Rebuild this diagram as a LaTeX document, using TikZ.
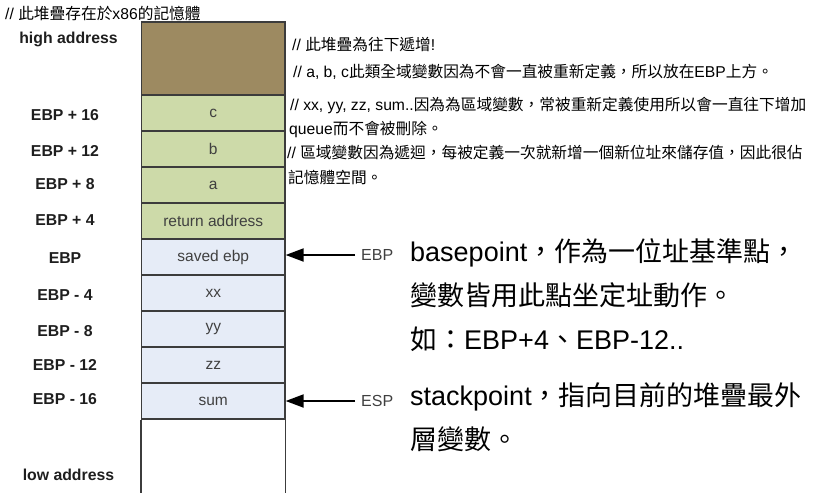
\documentclass[tikz,border=0pt]{standalone}
\usepackage{fontspec}
\setmainfont{Liberation Sans}
\newfontfamily\cjk{Noto Sans CJK TC}
\usetikzlibrary{arrows.meta}
\definecolor{brownc}{RGB}{157,138,97}
\definecolor{greenc}{RGB}{205,218,169}
\definecolor{bluec}{RGB}{230,236,247}
\definecolor{edgec}{RGB}{60,60,60}
\definecolor{celltxt}{RGB}{64,64,64}
\definecolor{lbltxt}{RGB}{30,30,30}
\begin{document}
\begin{tikzpicture}[x=1pt,y=-1pt,
 cell/.style={draw=edgec, line width=1.3pt, minimum width=143.5pt, minimum height=36pt, inner sep=0pt, text=celltxt, font=\fontsize{15.5}{18}\selectfont},
 addr/.style={anchor=base, inner sep=0pt, text=lbltxt, font=\fontsize{15.8}{18}\selectfont\bfseries},
 note/.style={anchor=base west, inner sep=0pt, font=\fontsize{15.7}{19}\selectfont},
 big/.style={anchor=base west, inner sep=0pt, font=\fontsize{27}{32}\selectfont},
 reg/.style={inner xsep=6pt, inner ysep=0pt, anchor=west, text=celltxt, font=\fontsize{16}{18}\selectfont},
 ptr/.style={line width=2pt, -{Triangle[length=18pt,width=13pt]}}]
\useasboundingbox (0,0) rectangle (834,503);
% stack column
\node[cell, fill=brownc, minimum height=73pt] (top) at (213.25,58.5) {};
\node[cell, fill=greenc] (c) at (213.25,113) {c};
\node[cell, fill=greenc] (b) at (213.25,149) {b};
\node[cell, fill=greenc] (a) at (213.25,185) {a};
\node[cell, fill=greenc] (ret) at (213.25,221) {return address};
\node[cell, fill=bluec] (sav) at (213.25,257) {saved ebp};
\node[cell, fill=bluec] (xx) at (213.25,293) {xx};
\node[cell, fill=bluec] (yy) at (213.25,329) {yy};
\node[cell, fill=bluec] (zz) at (213.25,365) {zz};
\node[cell, fill=bluec] (sum) at (213.25,401) {sum};
\draw[edgec, line width=1.6pt] (sum.south west) -- ++(0,73);
\draw[edgec, line width=1.6pt] (sum.south east) -- ++(0,73);
% address labels
\node[addr] (lhigh) at (68.5,44) {high address};
\node[addr] (l16) at (65,120) {EBP + 16};
\node[addr] (l12) at (65,156) {EBP + 12};
\node[addr] (l8) at (65,189) {EBP + 8};
\node[addr] (l4) at (65,225) {EBP + 4};
\node[addr] (l0) at (65,263) {EBP};
\node[addr] (lm4) at (65,300.5) {EBP - 4};
\node[addr] (lm8) at (65,336.5) {EBP - 8};
\node[addr] (lm12) at (65,370) {EBP - 12};
\node[addr] (lm16) at (65,404) {EBP - 16};
\node[addr] (llow) at (68.5,480) {low address};
% title and comments
\node[note] (title) at (5,20) {// {\cjk 此堆疊存在於}x86{\cjk 的記憶體}};
\node[note] (n1) at (292,51) {// {\cjk 此堆疊為往下遞增}!};
\node[note] (n2) at (293,77) {// a, b, c{\cjk 此類全域變數因為不會一直被重新定義，所以放在}EBP{\cjk 上方。}};
\node[note] (n3) at (290,110) {// xx, yy, zz, sum..{\cjk 因為為區域變數，常被重新定義使用所以會一直往下增加}};
\node[note] (n4) at (289,134.5) {queue{\cjk 而不會被刪除。}};
\node[note] (n5) at (287,158) {// {\cjk 區域變數因為遞迴，每被定義一次就新增一個新位址來儲存值，因此很佔}};
\node[note] (n6) at (288,183) {{\cjk 記憶體空間。}};
% pointers
\node[reg] (ebp) at (355,255) {EBP};
\node[reg] (esp) at (355,401) {ESP};
\draw[ptr] (ebp.west) -- (ebp.west -| sav.east);
\draw[ptr] (esp.west) -- (esp.west -| sum.east);
% big explanations
\node[big] (t1) at (410,261) {basepoint{\cjk ，作為一位址基準點，}};
\node[big] (t2) at (410,305) {{\cjk 變數皆用此點坐定址動作。}};
\node[big] (t3) at (410,349) {{\cjk 如：}EBP+4{\cjk 、}EBP-12..};
\node[big] (t4) at (410,405) {stackpoint{\cjk ，指向目前的堆疊最外}};
\node[big] (t5) at (410,449) {{\cjk 層變數。}};
\end{tikzpicture}
\end{document}
